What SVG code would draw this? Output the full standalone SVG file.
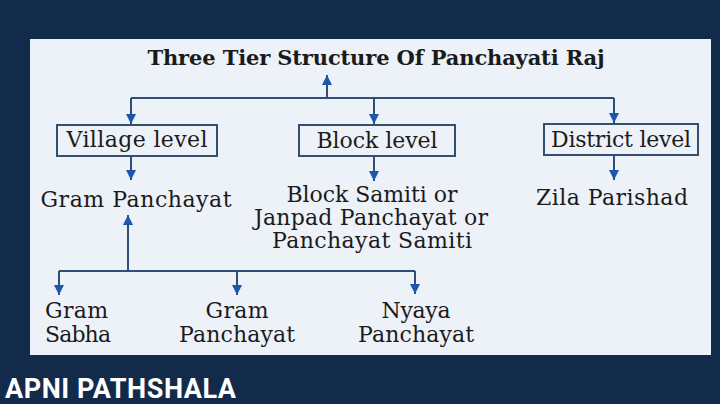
<svg xmlns="http://www.w3.org/2000/svg" width="720" height="404" viewBox="0 0 720 404">
<defs>
<style>
.t{font-family:"DejaVu Serif","Liberation Serif",serif;font-size:22px;fill:#1b1b1b;text-anchor:middle}
.title{font-weight:bold;font-size:21px}
.box{fill:none;stroke:#34506e;stroke-width:2}
.ln{fill:none;stroke:#2f4f78;stroke-width:2}
.brand{font-family:Roboto,"Liberation Sans",sans-serif;font-weight:bold;font-size:27px;fill:#ffffff}
</style>
<marker id="ah" markerUnits="userSpaceOnUse" markerWidth="10" markerHeight="10" viewBox="0 0 10 10" refX="10" refY="5" orient="auto">
<path d="M0,0 L10,5 L0,10 z" fill="#1b57ad"/>
</marker>
</defs>
<rect x="0" y="0" width="720" height="404" fill="#132b4b"/>
<rect x="30" y="39" width="681" height="316" fill="#edf2f8"/>
<g id="connectors">
<path class="ln" d="M327 98 V75" marker-end="url(#ah)"/>
<path class="ln" d="M131 98 H614"/>
<path class="ln" d="M131 98 V124" marker-end="url(#ah)"/>
<path class="ln" d="M374 98 V124" marker-end="url(#ah)"/>
<path class="ln" d="M614 98 V123" marker-end="url(#ah)"/>
<path class="ln" d="M131 157 V180" marker-end="url(#ah)"/>
<path class="ln" d="M374 157 V181" marker-end="url(#ah)"/>
<path class="ln" d="M614 156 V180" marker-end="url(#ah)"/>
<path class="ln" d="M128 271 V215" marker-end="url(#ah)"/>
<path class="ln" d="M59 271 H415"/>
<path class="ln" d="M59 271 V295" marker-end="url(#ah)"/>
<path class="ln" d="M237 271 V295" marker-end="url(#ah)"/>
<path class="ln" d="M415 271 V294" marker-end="url(#ah)"/>
</g>
<g id="title"><text class="t title" x="376" y="65" textLength="457">Three Tier Structure Of Panchayati Raj</text></g>
<g id="village"><rect class="box" x="57" y="125" width="160" height="31"/><text class="t" x="137" y="147" textLength="141">Village level</text></g>
<g id="block"><rect class="box" x="299" y="125" width="156" height="31"/><text class="t" x="377" y="148" textLength="121">Block level</text></g>
<g id="district"><rect class="box" x="544" y="124" width="154" height="31"/><text class="t" x="621" y="147" textLength="140">District level</text></g>
<g id="gram-panchayat"><text class="t" x="136" y="207" textLength="191">Gram Panchayat</text></g>
<g id="block-samiti"><text class="t" x="372" y="202" textLength="171">Block Samiti or</text><text class="t" x="371" y="225" textLength="234">Janpad Panchayat or</text><text class="t" x="372" y="248" textLength="200">Panchayat Samiti</text></g>
<g id="zila"><text class="t" x="612" y="205" textLength="152">Zila Parishad</text></g>
<g id="gram-sabha"><text class="t" x="45" y="318" style="text-anchor:start" textLength="63">Gram</text><text class="t" x="45" y="342" style="text-anchor:start" textLength="66">Sabha</text></g>
<g id="gram-panchayat-2"><text class="t" x="237" y="318" textLength="63">Gram</text><text class="t" x="237" y="342" textLength="116">Panchayat</text></g>
<g id="nyaya"><text class="t" x="416" y="318" textLength="69">Nyaya</text><text class="t" x="416" y="342" textLength="116">Panchayat</text></g>
<text class="brand" x="5" y="398" textLength="231">APNI PATHSHALA</text>
</svg>
